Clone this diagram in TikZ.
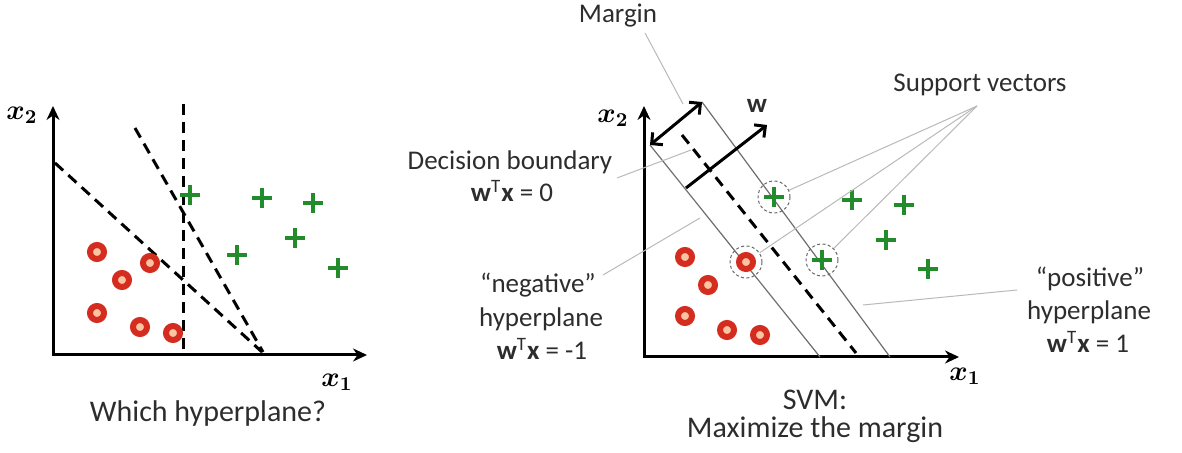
\documentclass[tikz,border=0pt]{standalone}
\usepackage{fix-cm}
\usepackage{fontspec}
\setmainfont{Carlito}
\usetikzlibrary{arrows.meta}
\definecolor{ptred}{RGB}{212,45,32}
\definecolor{ptfill}{RGB}{250,196,160}
\definecolor{ptgreen}{RGB}{34,139,44}
\definecolor{txt}{RGB}{45,45,45}
\definecolor{leader}{RGB}{185,185,185}
\definecolor{hyp}{RGB}{110,110,110}
\newcommand{\wtx}{\textbf{w}\textsuperscript{T}\textbf{x}}
\begin{document}
\begin{tikzpicture}[x=0.5pt,y=-0.5pt,
  axis/.style={line width=1.5pt, {Stealth[length=7pt,width=6.5pt]}-{Stealth[length=7pt,width=6.5pt]}},
  dashline/.style={line width=1.5pt, dash pattern=on 5.5pt off 3.5pt},
  hypline/.style={line width=0.6pt, draw=hyp},
  leaderline/.style={line width=0.5pt, draw=leader},
  barb/.style={line width=1.5pt},
  negmark/.style={circle, draw=ptred, line width=3pt, fill=ptfill, minimum size=7pt, inner sep=0pt},
  plusmark/.style={minimum size=10pt, inner sep=0pt, path picture={\draw[ptgreen, line width=1.8pt] (path picture bounding box.north) -- (path picture bounding box.south) (path picture bounding box.west) -- (path picture bounding box.east);}},
  svmark/.style={circle, draw=black!60, dash pattern=on 1.5pt off 1.2pt, line width=0.5pt, minimum size=16pt, inner sep=0pt},
  lbl/.style={font=\fontsize{13.5}{16}\selectfont, text=txt, inner sep=0pt, anchor=base},
  captext/.style={font=\fontsize{15}{18}\selectfont, text=txt, inner sep=0pt, anchor=base},
  axlbl/.style={font=\fontsize{14}{16}\selectfont\boldmath, inner sep=0pt},
]
\useasboundingbox (0,0) rectangle (1182,453);

% ---------------- left plot ----------------
\coordinate (LO) at (53,355);
\coordinate (LY) at (53,106);
\coordinate (LX) at (367,355);
\draw[axis] (LY) -- (LO) -- (LX);
\node[axlbl] (lx2) at (22,115) {$x_2$};
\node[axlbl] (lx1) at (337,382) {$x_1$};

\coordinate (LvT) at (183,104);
\coordinate (LvB) at (183,355);
\coordinate (LaT) at (55,163);
\coordinate (LaB) at (262,352);
\coordinate (LbT) at (135,128);
\coordinate (LbB) at (263,352);
\draw[dashline] (LvT) -- (LvB);
\draw[dashline] (LaT) -- (LaB);
\draw[dashline] (LbT) -- (LbB);

\node[negmark] (lr1) at (97,252) {};
\node[negmark] (lr2) at (150,263) {};
\node[negmark] (lr3) at (122,280) {};
\node[negmark] (lr4) at (97,313) {};
\node[negmark] (lr5) at (140,327) {};
\node[negmark] (lr6) at (173,333) {};

\node[plusmark] (lg1) at (190,195) {};
\node[plusmark] (lg2) at (262,198) {};
\node[plusmark] (lg3) at (313,203) {};
\node[plusmark] (lg4) at (295,238) {};
\node[plusmark] (lg5) at (237,255) {};
\node[plusmark] (lg6) at (338,268) {};

\node[captext] (lcap) at (208,422) {Which hyperplane?};

% ---------------- right plot ----------------
\coordinate (RO) at (644,357);
\coordinate (RY) at (644,106);
\coordinate (RX) at (959,357);
\draw[axis] (RY) -- (RO) -- (RX);
\node[axlbl] (rx2) at (613,118) {$x_2$};
\node[axlbl] (rx1) at (965,376) {$x_1$};

\coordinate (NegTop) at (650,145);
\coordinate (NegBot) at (820,357);
\coordinate (PosTop) at (702,102);
\coordinate (PosBot) at (890,357);
\coordinate (DecTop) at (682,135);
\coordinate (DecBot) at (856,353);
\coordinate (WBase) at (686,188);
\coordinate (WTip) at (767,125);

\draw[hypline] (NegTop) -- (NegBot);
\draw[hypline] (PosTop) -- (PosBot);
\draw[dashline] (DecTop) -- (DecBot);
\draw[barb, {Straight Barb[length=4pt,width=8pt]}-{Straight Barb[length=4pt,width=8pt]}] (NegTop) -- (PosTop);
\draw[barb, -{Straight Barb[length=4pt,width=8pt]}] (WBase) -- (WTip);
\node[font=\fontsize{13.5}{16}\selectfont\bfseries, text=txt, inner sep=0pt] (wlbl) at (757,106) {w};

\node[negmark] (rr0) at (746,262) {};
\node[negmark] (rr1) at (685,257) {};
\node[negmark] (rr2) at (708,285) {};
\node[negmark] (rr3) at (685,316) {};
\node[negmark] (rr4) at (727,330) {};
\node[negmark] (rr5) at (760,335) {};

\node[plusmark] (rg0) at (774,197) {};
\node[plusmark] (rg00) at (822,260) {};
\node[plusmark] (rg1) at (852,200) {};
\node[plusmark] (rg2) at (904,205) {};
\node[plusmark] (rg3) at (886,240) {};
\node[plusmark] (rg4) at (928,269) {};

\node[svmark] (svA) at (774,197) {};
\node[svmark] (svB) at (822,260) {};
\node[svmark] (svC) at (746,262) {};

% labels
\node[lbl] (margin) at (618,23) {Margin};
\coordinate (mS) at (645,33);
\coordinate (mE) at (683,104);
\draw[leaderline] (mS) -- (mE);

\node[lbl] (supp) at (980,92) {Support vectors};
\coordinate (hub) at (977,106);
\draw[leaderline] (hub) -- (svA);
\draw[leaderline] (hub) -- (svC);
\draw[leaderline] (hub) -- (svB);

\node[lbl] (dec1) at (510,170) {Decision boundary};
\node[lbl] (dec2) at (512,202) {\wtx{} = 0};
\coordinate (dS) at (617,178);
\coordinate (dE) at (691,150);
\draw[leaderline] (dS) -- (dE);

\node[lbl] (neg1) at (538,293) {“negative”};
\node[lbl] (neg2) at (541,327) {hyperplane};
\node[lbl] (neg3) at (542,360) {\wtx{} = -1};
\coordinate (nS) at (603,275);
\coordinate (nE) at (700,218);
\draw[leaderline] (nS) -- (nE);

\node[lbl] (pos1) at (1090,287) {“positive”};
\node[lbl] (pos2) at (1089,320) {hyperplane};
\node[lbl] (pos3) at (1088,353) {\wtx{} = 1};
\coordinate (pS) at (1017,290);
\coordinate (pE) at (863,305);
\draw[leaderline] (pS) -- (pE);

\node[captext] (svm1) at (815,410) {SVM:};
\node[captext] (svm2) at (815,438) {Maximize the margin};
\end{tikzpicture}
\end{document}
